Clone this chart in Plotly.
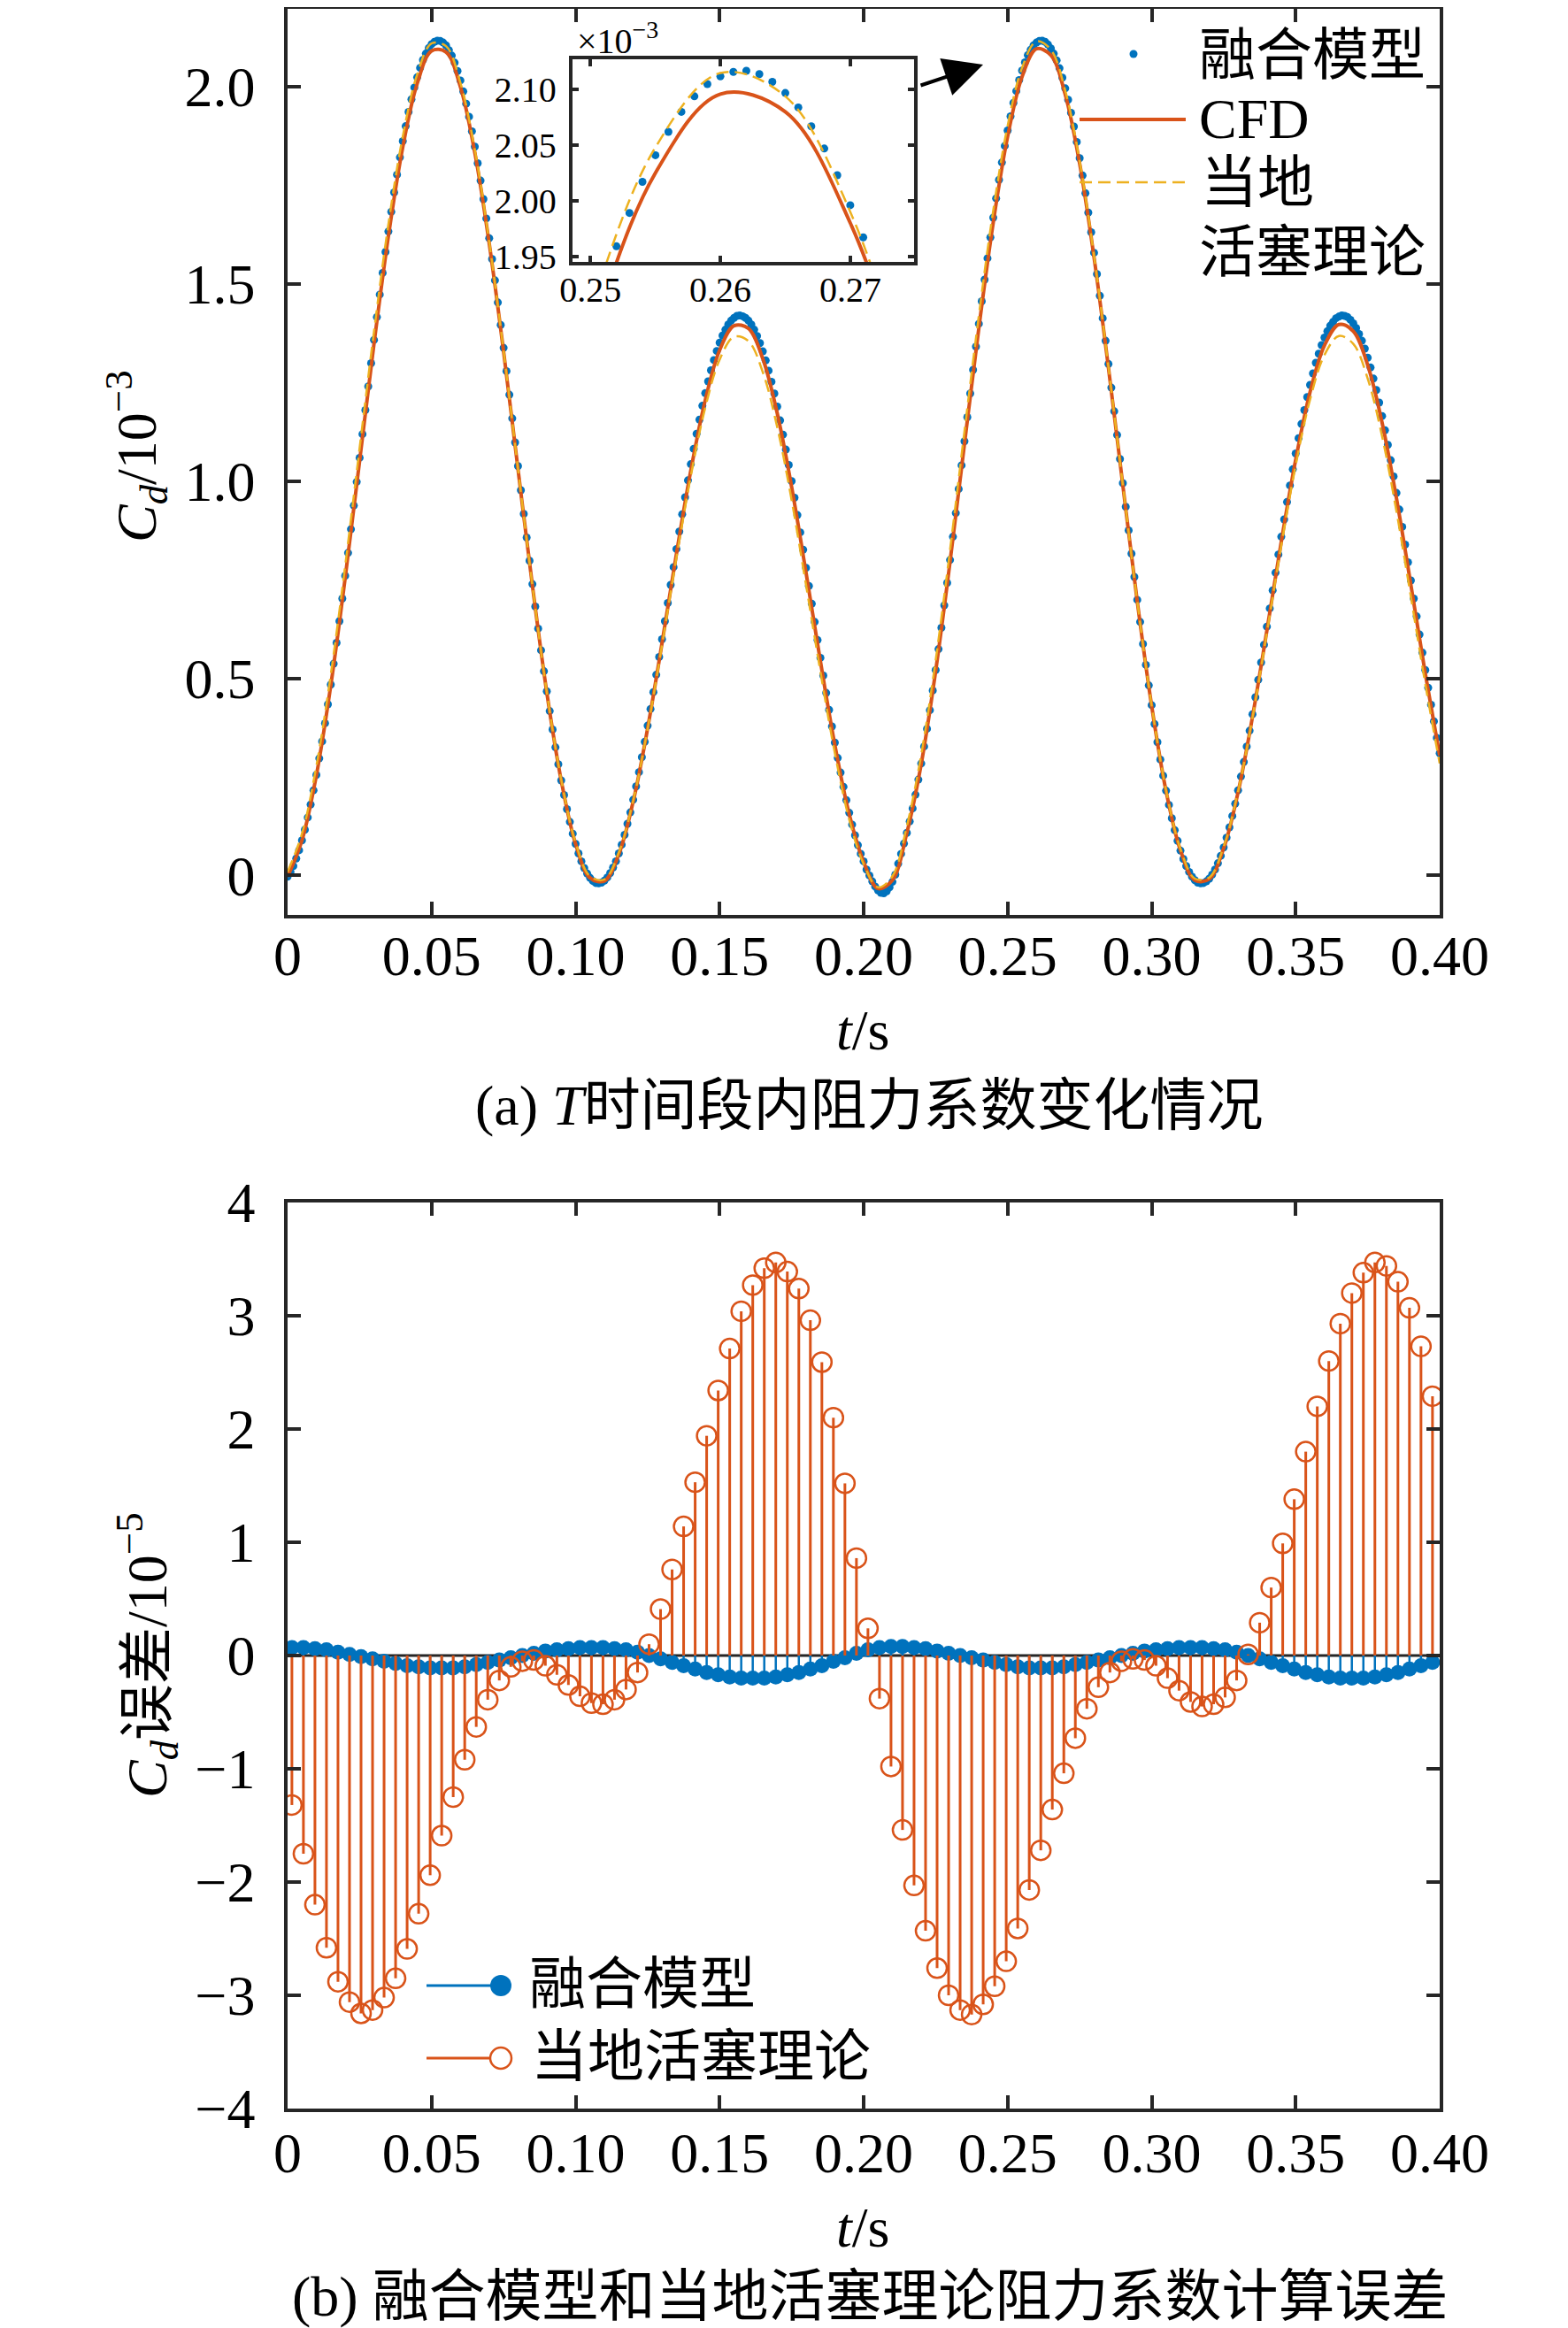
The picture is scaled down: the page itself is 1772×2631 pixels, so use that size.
import plotly.graph_objects as go

W, H = 1772, 2631
FONT = "Liberation Serif, Noto Sans CJK SC"
BLUE, RED, YEL, INK = "#0072BD", "#D95319", "#EDB120", "#262626"

# ---------- (a) drag coefficient, unit 1e-3 ----------
t_line = [i * 0.005 for i in range(81)]
cd_cfd = [
    -0.003, 0.089, 0.254, 0.482, 0.755, 1.051, 1.348, 1.621, 1.847, 2.008,
    2.091, 2.088, 2.000, 1.833, 1.603, 1.328, 1.030, 0.735, 0.464, 0.241,
    0.080, -0.006, -0.014, 0.054, 0.188, 0.373, 0.589, 0.815, 1.027, 1.205,
    1.332, 1.394, 1.387, 1.310, 1.172, 0.985, 0.768, 0.543, 0.331, 0.155,
    0.034, -0.033, -0.012, 0.108, 0.283, 0.518, 0.795, 1.094, 1.388, 1.656,
    1.874, 2.025, 2.096, 2.080, 1.980, 1.805, 1.567, 1.287, 0.989, 0.695,
    0.430, 0.214, 0.064, -0.012, -0.009, 0.069, 0.211, 0.402, 0.621, 0.846,
    1.054, 1.226, 1.344, 1.397, 1.380, 1.294, 1.148, 0.956, 0.737, 0.512,
    0.304,
]
cd_piston = [
    0.009, 0.106, 0.277, 0.509, 0.785, 1.083, 1.379, 1.651, 1.874, 2.031,
    2.110, 2.103, 2.010, 1.840, 1.607, 1.330, 1.031, 0.735, 0.465, 0.243,
    0.083, -0.002, -0.010, 0.058, 0.190, 0.372, 0.584, 0.806, 1.013, 1.186,
    1.308, 1.366, 1.355, 1.276, 1.137, 0.952, 0.737, 0.517, 0.311, 0.142,
    0.029, -0.030, -0.002, 0.125, 0.306, 0.545, 0.825, 1.126, 1.419, 1.686,
    1.901, 2.048, 2.115, 2.094, 1.990, 1.811, 1.571, 1.289, 0.990, 0.695,
    0.431, 0.216, 0.067, -0.008, -0.005, 0.073, 0.213, 0.400, 0.616, 0.837,
    1.040, 1.207, 1.320, 1.368, 1.348, 1.260, 1.114, 0.923, 0.707, 0.486,
    0.284,
]
t_dots = [i * 0.001 for i in range(401)]
cd_fusion = [
    -0.003, 0.009, 0.024, 0.043, 0.064, 0.089, 0.116, 0.147, 0.180, 0.216,
    0.255, 0.297, 0.340, 0.386, 0.434, 0.484, 0.537, 0.590, 0.645, 0.702,
    0.760, 0.818, 0.878, 0.938, 0.998, 1.059, 1.119, 1.180, 1.240, 1.299,
    1.358, 1.416, 1.473, 1.528, 1.581, 1.633, 1.683, 1.732, 1.777, 1.821,
    1.862, 1.900, 1.936, 1.968, 1.998, 2.024, 2.048, 2.068, 2.084, 2.098,
    2.108, 2.114, 2.117, 2.116, 2.112, 2.105, 2.093, 2.079, 2.061, 2.040,
    2.016, 1.988, 1.957, 1.924, 1.887, 1.848, 1.806, 1.762, 1.715, 1.666,
    1.616, 1.563, 1.509, 1.453, 1.396, 1.338, 1.279, 1.219, 1.159, 1.098,
    1.038, 0.977, 0.917, 0.857, 0.798, 0.739, 0.682, 0.626, 0.571, 0.518,
    0.467, 0.417, 0.370, 0.325, 0.282, 0.241, 0.204, 0.168, 0.136, 0.106,
    0.080, 0.056, 0.036, 0.019, 0.005, -0.006, -0.014, -0.019, -0.020, -0.018,
    -0.013, -0.005, 0.006, 0.020, 0.036, 0.056, 0.078, 0.103, 0.131, 0.160,
    0.192, 0.226, 0.262, 0.300, 0.339, 0.380, 0.422, 0.465, 0.509, 0.554,
    0.599, 0.645, 0.691, 0.737, 0.782, 0.828, 0.872, 0.916, 0.959, 1.002,
    1.043, 1.082, 1.120, 1.156, 1.191, 1.223, 1.253, 1.281, 1.307, 1.330,
    1.351, 1.369, 1.384, 1.397, 1.407, 1.414, 1.419, 1.420, 1.418, 1.414,
    1.407, 1.397, 1.384, 1.368, 1.350, 1.329, 1.306, 1.280, 1.252, 1.222,
    1.189, 1.154, 1.118, 1.080, 1.041, 1.000, 0.958, 0.914, 0.870, 0.826,
    0.780, 0.734, 0.689, 0.643, 0.597, 0.552, 0.507, 0.463, 0.420, 0.378,
    0.337, 0.298, 0.261, 0.225, 0.191, 0.159, 0.129, 0.102, 0.077, 0.055,
    0.036, 0.015, 0.000, -0.015, -0.028, -0.038, -0.044, -0.045, -0.040, -0.030,
    -0.016, 0.002, 0.030, 0.055, 0.081, 0.108, 0.137, 0.170, 0.205, 0.243,
    0.284, 0.327, 0.372, 0.419, 0.469, 0.521, 0.574, 0.628, 0.685, 0.742,
    0.800, 0.859, 0.919, 0.980, 1.040, 1.101, 1.162, 1.222, 1.282, 1.341,
    1.399, 1.456, 1.511, 1.565, 1.618, 1.668, 1.717, 1.764, 1.808, 1.850,
    1.889, 1.925, 1.959, 1.989, 2.017, 2.041, 2.062, 2.080, 2.094, 2.105,
    2.112, 2.116, 2.117, 2.114, 2.107, 2.097, 2.084, 2.067, 2.047, 2.023,
    1.996, 1.967, 1.934, 1.899, 1.860, 1.819, 1.775, 1.730, 1.681, 1.631,
    1.579, 1.525, 1.470, 1.413, 1.356, 1.297, 1.237, 1.177, 1.117, 1.056,
    0.995, 0.935, 0.875, 0.816, 0.757, 0.699, 0.643, 0.587, 0.534, 0.482,
    0.432, 0.384, 0.338, 0.294, 0.253, 0.215, 0.179, 0.145, 0.115, 0.088,
    0.063, 0.042, 0.024, 0.009, -0.003, -0.012, -0.018, -0.020, -0.019, -0.015,
    -0.008, 0.002, 0.015, 0.031, 0.050, 0.071, 0.096, 0.122, 0.151, 0.182,
    0.216, 0.251, 0.288, 0.327, 0.367, 0.409, 0.452, 0.496, 0.540, 0.585,
    0.631, 0.677, 0.723, 0.768, 0.814, 0.859, 0.903, 0.947, 0.989, 1.030,
    1.070, 1.109, 1.145, 1.180, 1.213, 1.244, 1.273, 1.300, 1.323, 1.345,
    1.364, 1.380, 1.394, 1.404, 1.413, 1.417, 1.420, 1.419, 1.416, 1.409,
    1.400, 1.388, 1.373, 1.356, 1.336, 1.313, 1.288, 1.260, 1.231, 1.199,
    1.165, 1.129, 1.092, 1.053, 1.012, 0.970, 0.928, 0.884, 0.839, 0.794,
    0.748, 0.702, 0.657, 0.611, 0.565, 0.521, 0.476, 0.433, 0.391, 0.349,
    0.310,
]

# ---------- (b) error, unit 1e-5 ----------
t_err = [0.0015 + 0.004 * i for i in range(100)]
err_fusion = [
    0.07, 0.07, 0.06, 0.05, 0.03, 0.01, -0.01, -0.03, -0.05, -0.07,
    -0.09, -0.10, -0.11, -0.11, -0.11, -0.10, -0.08, -0.06, -0.04, -0.02,
    0.00, 0.02, 0.04, 0.05, 0.06, 0.07, 0.07, 0.07, 0.06, 0.05,
    0.03, 0.00, -0.03, -0.06, -0.09, -0.12, -0.15, -0.17, -0.19, -0.20,
    -0.20, -0.20, -0.19, -0.17, -0.15, -0.12, -0.09, -0.05, -0.02, 0.02,
    0.05, 0.07, 0.08, 0.08, 0.07, 0.06, 0.04, 0.02, 0.00, -0.02,
    -0.04, -0.06, -0.08, -0.10, -0.11, -0.11, -0.11, -0.10, -0.08, -0.06,
    -0.04, -0.02, 0.00, 0.02, 0.04, 0.05, 0.06, 0.07, 0.07, 0.07,
    0.06, 0.05, 0.03, 0.00, -0.03, -0.06, -0.09, -0.12, -0.15, -0.17,
    -0.19, -0.20, -0.20, -0.20, -0.19, -0.17, -0.15, -0.12, -0.09, -0.06,
]
err_piston = [
    -1.32, -1.75, -2.20, -2.58, -2.88, -3.06, -3.16, -3.13, -3.02, -2.85,
    -2.59, -2.28, -1.94, -1.59, -1.25, -0.92, -0.63, -0.39, -0.22, -0.10,
    -0.05, -0.04, -0.09, -0.17, -0.26, -0.36, -0.42, -0.43, -0.39, -0.30,
    -0.15, 0.10, 0.41, 0.76, 1.14, 1.53, 1.94, 2.34, 2.71, 3.04,
    3.27, 3.42, 3.47, 3.39, 3.24, 2.96, 2.59, 2.10, 1.52, 0.86,
    0.24, -0.38, -0.98, -1.54, -2.03, -2.43, -2.76, -3.00, -3.13, -3.17,
    -3.08, -2.92, -2.70, -2.41, -2.07, -1.72, -1.36, -1.04, -0.73, -0.47,
    -0.28, -0.15, -0.05, -0.03, -0.04, -0.09, -0.20, -0.31, -0.41, -0.45,
    -0.43, -0.37, -0.22, 0.01, 0.29, 0.60, 0.99, 1.38, 1.80, 2.20,
    2.60, 2.93, 3.20, 3.38, 3.47, 3.44, 3.30, 3.07, 2.73, 2.29,
]

x_ticks = [0, 0.05, 0.10, 0.15, 0.20, 0.25, 0.30, 0.35, 0.40]
x_labels = ["0", "0.05", "0.10", "0.15", "0.20", "0.25", "0.30", "0.35", "0.40"]
ya_ticks = [0, 0.5, 1.0, 1.5, 2.0]
ya_labels = ["0", "0.5", "1.0", "1.5", "2.0"]
yb_ticks = [-4, -3, -2, -1, 0, 1, 2, 3, 4]
yb_labels = ["\u22124", "\u22123", "\u22122", "\u22121", "0", "1", "2", "3", "4"]
zx_ticks = [0.25, 0.26, 0.27]
zx_labels = ["0.25", "0.26", "0.27"]
zy_ticks = [1.95, 2.00, 2.05, 2.10]
zy_labels = ["1.95", "2.00", "2.05", "2.10"]


def px(x):
    return x / W


def py(y):
    return 1 - y / H


def stems(t, v):
    xs, ys = [], []
    for a, b in zip(t, v):
        xs += [a, a, None]
        ys += [0, b, None]
    return xs, ys


fig = go.Figure()

# main panel (a) and the zoomed inset use the same series
for xa, ya in (("x", "y"), ("x3", "y3")):
    fig.add_trace(go.Scatter(x=t_dots, y=cd_fusion, mode="markers", xaxis=xa, yaxis=ya,
                             marker=dict(color=BLUE, size=9), showlegend=False))
    fig.add_trace(go.Scatter(x=t_line, y=cd_cfd, mode="lines", xaxis=xa, yaxis=ya,
                             line=dict(color=RED, width=4, shape="spline"), showlegend=False))
    fig.add_trace(go.Scatter(x=t_line, y=cd_piston, mode="lines", xaxis=xa, yaxis=ya,
                             line=dict(color=YEL, width=2.5, shape="spline", dash="14px,7px"),
                             showlegend=False))

# panel (b): stem plots
sx, sy = stems(t_err, err_fusion)
fig.add_trace(go.Scatter(x=sx, y=sy, mode="lines", xaxis="x2", yaxis="y2",
                         line=dict(color=BLUE, width=2.5), showlegend=False))
fig.add_trace(go.Scatter(x=t_err, y=err_fusion, mode="markers", xaxis="x2", yaxis="y2",
                         marker=dict(color=BLUE, size=17), showlegend=False))
sx, sy = stems(t_err, err_piston)
fig.add_trace(go.Scatter(x=sx, y=sy, mode="lines", xaxis="x2", yaxis="y2",
                         line=dict(color=RED, width=3), showlegend=False))
fig.add_trace(go.Scatter(x=t_err, y=err_piston, mode="markers", xaxis="x2", yaxis="y2",
                         marker=dict(symbol="circle-open", color=RED, size=22,
                                     line=dict(width=2.5, color=RED)),
                         showlegend=False))

ax = dict(showline=True, linecolor=INK, linewidth=3.5, mirror="ticks", ticks="inside",
          ticklen=15, tickwidth=3.5, tickcolor=INK, showgrid=False, zeroline=False,
          automargin=False,
          tickfont=dict(family="Liberation Serif", size=64, color="black"))
inset_ax = dict(ax, ticklen=8, tickfont=dict(family="Liberation Serif", size=40, color="black"))

xdom = [px(317), px(1619)]
fig.update_layout(
    template="none",
    width=W, height=H, margin=dict(l=0, r=0, t=0, b=0, pad=0),
    paper_bgcolor="white", plot_bgcolor="white", showlegend=False,
    xaxis=dict(ax, domain=xdom, anchor="y", range=[0, 0.4], tickvals=x_ticks,
               ticktext=x_labels, ticklabelstandoff=-13),
    yaxis=dict(ax, domain=[py(1026), py(2)], anchor="x", range=[-0.1, 2.1975],
               tickvals=ya_ticks, ticktext=ya_labels, ticklabelstandoff=20),
    xaxis2=dict(ax, domain=xdom, anchor="y2", range=[0, 0.4], tickvals=x_ticks,
                ticktext=x_labels, ticklabelstandoff=-9),
    yaxis2=dict(ax, domain=[py(2375), py(1351)], anchor="x2", range=[-4, 4],
                tickvals=yb_ticks, ticktext=yb_labels, ticklabelstandoff=20),
    xaxis3=dict(inset_ax, domain=[px(638.6), px(1025.4)], anchor="y3",
                range=[0.24859, 0.27494], tickvals=zx_ticks, ticktext=zx_labels,
                ticklabelstandoff=-7),
    yaxis3=dict(inset_ax, domain=[py(288.3), py(59.3)], anchor="x3",
                range=[1.9447, 2.1271], tickvals=zy_ticks, ticktext=zy_labels,
                ticklabelstandoff=6),
)


def ann(text, x, y, size=64, xanchor="center", angle=0):
    return dict(text=text, x=px(x), y=py(y), xref="paper", yref="paper", showarrow=False,
                xanchor=xanchor, yanchor="middle", textangle=angle,
                font=dict(family=FONT, size=size, color="black"))


annotations = [
    ann("<i>C<sub>d</sub></i>/10<sup>\u22123</sup>", 146, 508, angle=-90),
    ann("<i>t</i>/s", 967, 1157),
    ann("(a) <i>T</i>时间段内阻力系数变化情况", 974, 1241),
    ann("<i>C<sub>d</sub></i>误差/10<sup>\u22125</sup>", 158, 1863, angle=-90),
    ann("<i>t</i>/s", 967, 2509),
    ann("(b) 融合模型和当地活塞理论阻力系数计算误差", 975, 2587),
    ann("融合模型", 1345, 55, xanchor="left"),
    ann("CFD", 1345, 127, xanchor="left"),
    ann("当地", 1347, 198, xanchor="left"),
    ann("活塞理论", 1345, 277, xanchor="left"),
    ann("融合模型", 588, 2234, xanchor="left"),
    ann("当地活塞理论", 590, 2316, xanchor="left"),
    ann("×10<sup>\u22123</sup>", 642, 35, size=40, xanchor="left"),
    dict(text="", x=px(1103), y=py(65), xref="paper", yref="paper", showarrow=True,
         ax=-72, ay=24, arrowhead=2, arrowsize=2.2, arrowwidth=4, arrowcolor="black"),
]
fig.update_layout(annotations=annotations)


def circle(cx, cy, r, fill, line_w=0):
    return dict(type="circle", xref="paper", yref="paper",
                x0=px(cx - r), x1=px(cx + r), y0=py(cy + r), y1=py(cy - r),
                fillcolor=fill if fill else "rgba(0,0,0,0)",
                line=dict(color=RED if not fill else fill, width=line_w))


def seg(x0, x1, y, color, width, dash="solid"):
    return dict(type="line", xref="paper", yref="paper", x0=px(x0), x1=px(x1),
                y0=py(y), y1=py(y), line=dict(color=color, width=width, dash=dash))


shapes = [
    dict(type="line", xref="x2", yref="y2", x0=0, x1=0.4, y0=0, y1=0,
         line=dict(color=INK, width=3), layer="below"),
    circle(1273, 53, 4.5, BLUE),
    seg(1212, 1332, 127, RED, 4),
    seg(1212, 1332, 198, YEL, 2.5, "14px,7px"),
    seg(474, 558, 2236, BLUE, 3),
    circle(558, 2236, 12, BLUE),
    seg(474, 546, 2318, RED, 3),
    circle(558, 2318, 12, None, 2.5),
]
fig.update_layout(shapes=shapes)

fig.write_html("out.html")
